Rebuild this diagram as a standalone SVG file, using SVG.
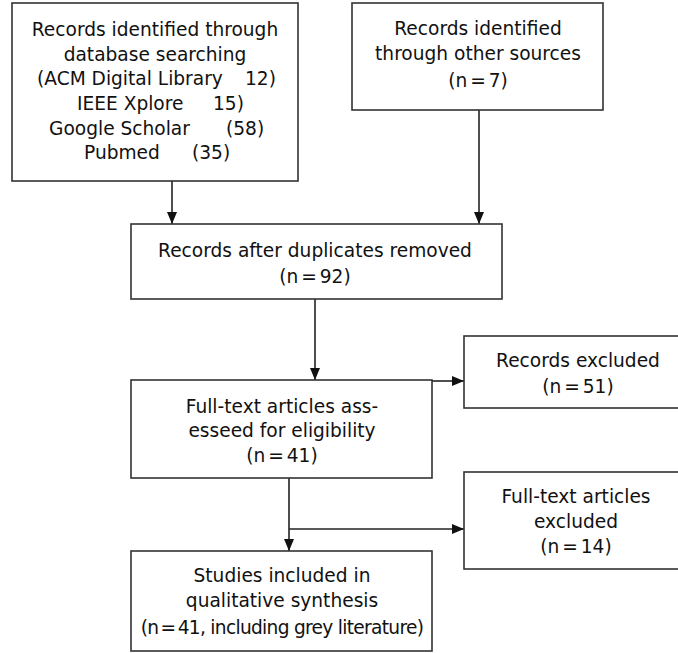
<svg xmlns="http://www.w3.org/2000/svg" width="678" height="653" viewBox="0 0 678 653">
<style>
.box{fill:#fff;stroke:#333;stroke-width:1.6}
.t{font-family:"DejaVu Sans","Liberation Sans",sans-serif;font-size:18.6px;fill:#111}
.m{text-anchor:middle}
.n{word-spacing:-3px}
.g{letter-spacing:-0.7px}
.c{fill:none;stroke:#222;stroke-width:1.6}
</style>
<defs>
<marker id="ah" markerUnits="userSpaceOnUse" markerWidth="12" markerHeight="10" refX="12" refY="5" orient="auto">
<path d="M0,0 L12,5 L0,10 z" fill="#111"/>
</marker>
</defs>
<rect width="678" height="653" fill="#fff"/>
<g id="connectors">
<path class="c" d="M172,181 V224" marker-end="url(#ah)"/>
<path class="c" d="M479,110 V224" marker-end="url(#ah)"/>
<path class="c" d="M315,299 V380" marker-end="url(#ah)"/>
<path class="c" d="M432,381 H464" marker-end="url(#ah)"/>
<path class="c" d="M289,478 V551" marker-end="url(#ah)"/>
<path class="c" d="M289,529 H464" marker-end="url(#ah)"/>
</g>
<g id="db-search">
<rect class="box" x="12" y="3" width="286" height="178"/>
<text class="t m" x="155" y="36">Records identified through</text>
<text class="t m" x="155" y="60.5">database searching</text>
<text class="t"><tspan x="37" y="85">(ACM Digital Library</tspan><tspan x="245" y="85">12)</tspan></text>
<text class="t"><tspan x="77" y="110">IEEE Xplore</tspan><tspan x="213" y="110">15)</tspan></text>
<text class="t"><tspan x="49" y="135">Google Scholar</tspan><tspan x="226" y="135">(58)</tspan></text>
<text class="t"><tspan x="84" y="159">Pubmed</tspan><tspan x="192" y="159">(35)</tspan></text>
</g>
<g id="other-sources">
<rect class="box" x="352" y="3" width="251" height="107"/>
<text class="t m" x="478" y="35">Records identified</text>
<text class="t m" x="478" y="60">through other sources</text>
<text class="t m n" x="478" y="87">(n = 7)</text>
</g>
<g id="duplicates-removed">
<rect class="box" x="131" y="224" width="371" height="75"/>
<text class="t m" x="315" y="257">Records after duplicates removed</text>
<text class="t m n" x="315" y="283">(n = 92)</text>
</g>
<g id="records-excluded">
<rect class="box" x="464" y="336" width="236" height="72"/>
<text class="t m" x="578" y="367">Records excluded</text>
<text class="t m n" x="578" y="393">(n = 51)</text>
</g>
<g id="full-text-assessed">
<rect class="box" x="131" y="380" width="301" height="98"/>
<text class="t m" x="282" y="413">Full-text articles ass-</text>
<text class="t m" x="282" y="437">esseed for eligibility</text>
<text class="t m n" x="282" y="462">(n = 41)</text>
</g>
<g id="full-text-excluded">
<rect class="box" x="464" y="472" width="236" height="97"/>
<text class="t m" x="576" y="503">Full-text articles</text>
<text class="t m" x="576" y="528">excluded</text>
<text class="t m n" x="576" y="553">(n = 14)</text>
</g>
<g id="studies-included">
<rect class="box" x="131" y="551" width="301" height="100"/>
<text class="t m" x="282" y="582">Studies included in</text>
<text class="t m" x="282" y="607">qualitative synthesis</text>
<text class="t m g" x="282" y="634"><tspan class="n">(n = 41,</tspan> including grey literature)</text>
</g>
</svg>
